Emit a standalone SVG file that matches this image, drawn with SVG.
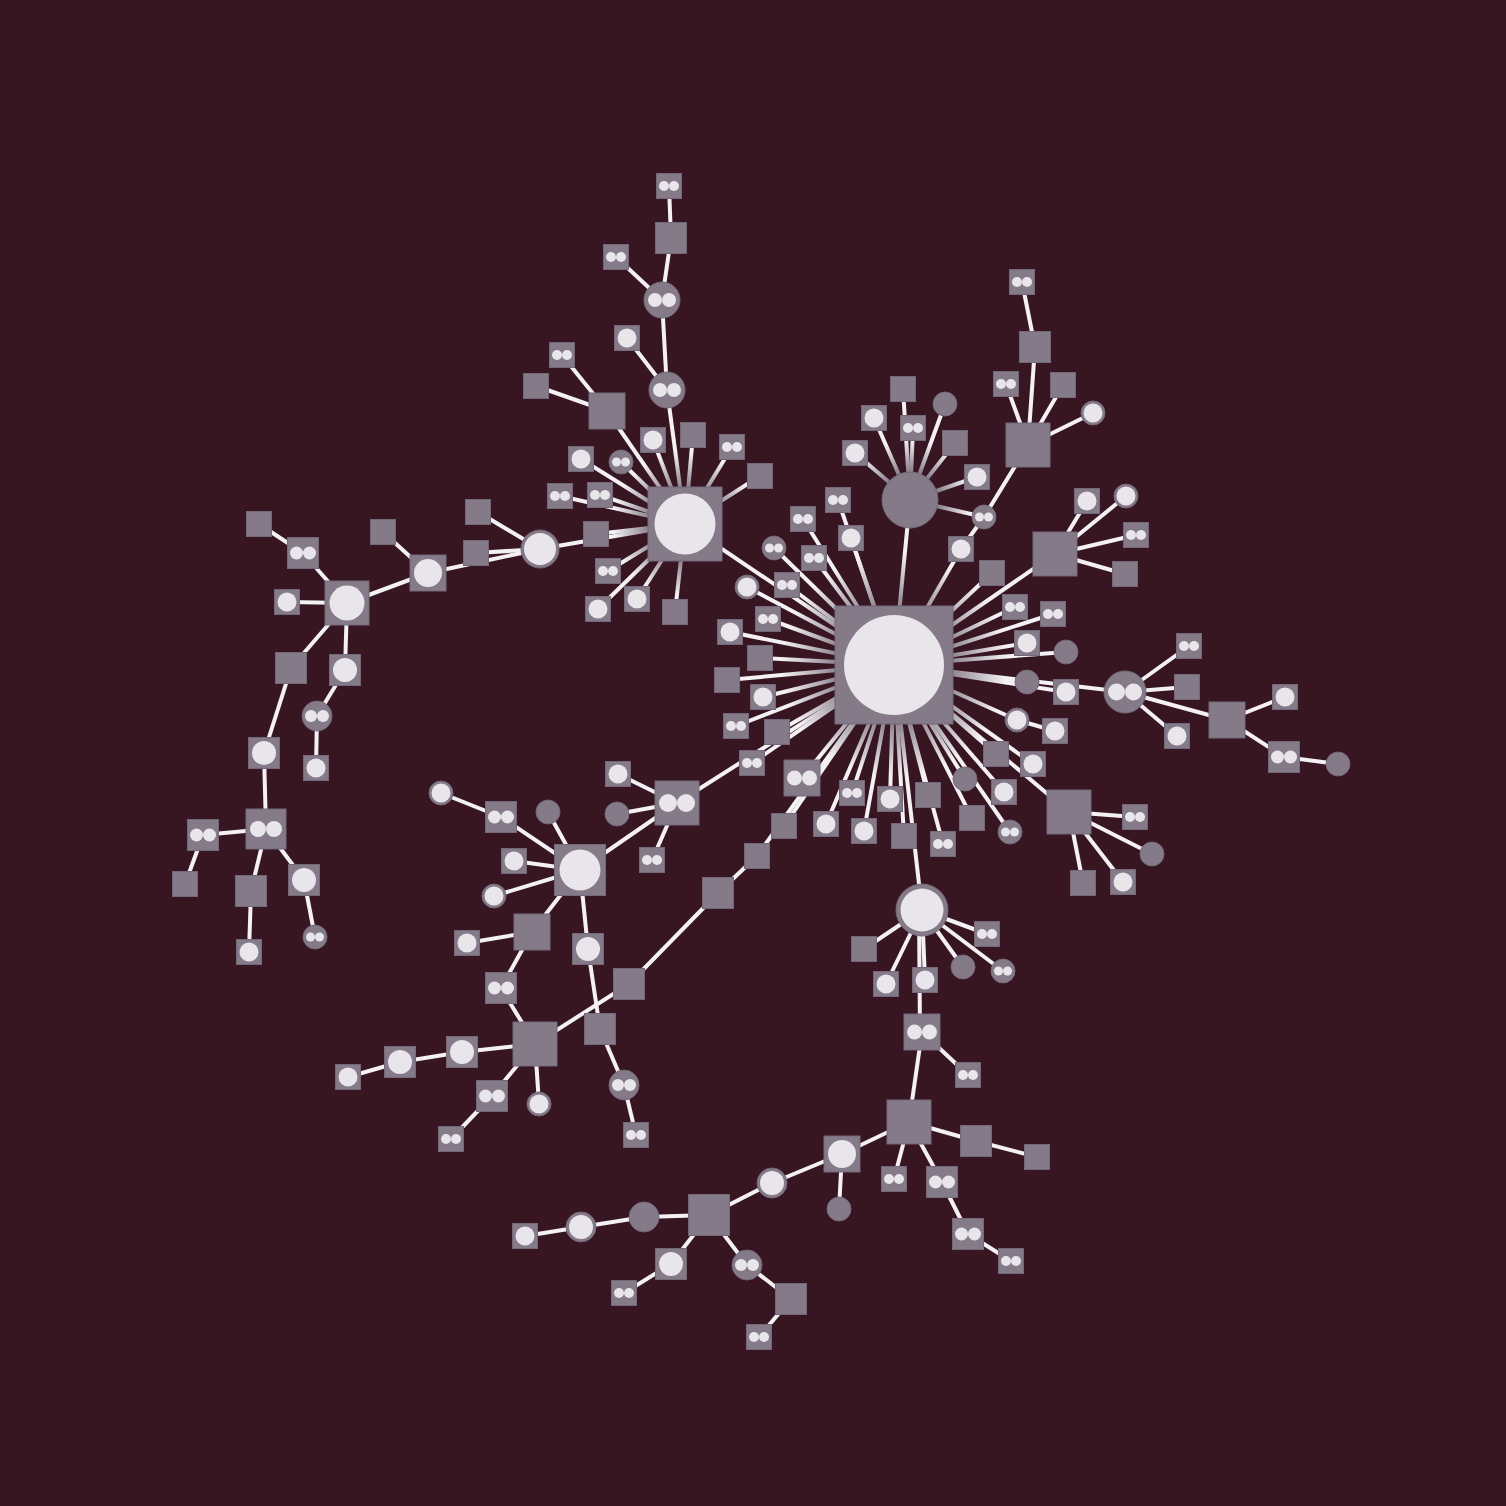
<svg xmlns="http://www.w3.org/2000/svg" xmlns:xlink="http://www.w3.org/1999/xlink" width="1506" height="1506" viewBox="0 0 1506 1506">
<style>
.n{fill:#857b88;stroke:#73687a;stroke-width:1}
.w{fill:#e8e6ea}
#edges line{stroke:#f3f1f4;stroke-width:4;stroke-linecap:butt}
#edges .gh line{stroke:url(#gH)}
#edges .gh2 line{stroke:url(#gH2)}
#edges .gc line{stroke:url(#gC)}
</style>
<defs>
<radialGradient id="gH" gradientUnits="userSpaceOnUse" cx="894" cy="665" r="140"><stop offset="0.4" stop-color="#8a808d"/><stop offset="0.8" stop-color="#f3f1f4"/></radialGradient>
<radialGradient id="gH2" gradientUnits="userSpaceOnUse" cx="685" cy="524" r="90"><stop offset="0.4" stop-color="#8a808d"/><stop offset="0.8" stop-color="#f3f1f4"/></radialGradient>
<radialGradient id="gC" gradientUnits="userSpaceOnUse" cx="910" cy="500" r="75"><stop offset="0.38" stop-color="#8a808d"/><stop offset="0.8" stop-color="#f3f1f4"/></radialGradient>
<g id="s25"><rect class="n" x="-12.5" y="-12.5" width="25" height="25"/></g>
<g id="s31"><rect class="n" x="-15.5" y="-15.5" width="31" height="31"/></g>
<g id="s36"><rect class="n" x="-18" y="-18" width="36" height="36"/></g>
<g id="s41"><rect class="n" x="-20.5" y="-20.5" width="41" height="41"/></g>
<g id="s44"><rect class="n" x="-22" y="-22" width="44" height="44"/></g>
<g id="sc25"><use href="#s25"/><circle class="w" r="9.5"/></g>
<g id="sc31"><use href="#s31"/><circle class="w" r="12"/></g>
<g id="sc36"><use href="#s36"/><circle class="w" r="14"/></g>
<g id="sc44"><use href="#s44"/><circle class="w" r="17.5"/></g>
<g id="sc51"><rect class="n" x="-25.5" y="-25.5" width="51" height="51"/><circle class="w" r="20.5"/></g>
<g id="sd25"><use href="#s25"/><circle class="w" cx="-5" r="5"/><circle class="w" cx="5" r="5"/></g>
<g id="sd31"><use href="#s31"/><circle class="w" cx="-6.5" r="6.5"/><circle class="w" cx="6.5" r="6.5"/></g>
<g id="sd36"><use href="#s36"/><circle class="w" cx="-7.5" r="7.5"/><circle class="w" cx="7.5" r="7.5"/></g>
<g id="sd40"><rect class="n" x="-20" y="-20" width="40" height="40"/><circle class="w" cx="-8" r="8"/><circle class="w" cx="8" r="8"/></g>
<g id="sd44"><use href="#s44"/><circle class="w" cx="-9" r="9"/><circle class="w" cx="9" r="9"/></g>
<g id="c12"><circle class="n" r="12"/></g>
<g id="c15"><circle class="n" r="15"/></g>
<g id="c28"><circle class="n" r="28"/></g>
<g id="cc12"><circle class="n" r="12"/><circle class="w" r="9.5"/></g>
<g id="cc15"><circle class="n" r="15"/><circle class="w" r="12"/></g>
<g id="cc19"><circle class="n" r="19"/><circle class="w" r="16"/></g>
<g id="cc26"><circle class="n" r="26"/><circle class="w" r="21.5"/></g>
<g id="cd12"><circle class="n" r="12"/><circle class="w" cx="-4.5" r="4.5"/><circle class="w" cx="4.5" r="4.5"/></g>
<g id="cd15"><circle class="n" r="15"/><circle class="w" cx="-6" r="6"/><circle class="w" cx="6" r="6"/></g>
<g id="cd18"><circle class="n" r="18"/><circle class="w" cx="-7" r="7"/><circle class="w" cx="7" r="7"/></g>
<g id="cd21"><circle class="n" r="21"/><circle class="w" cx="-8.5" r="8.5"/><circle class="w" cx="8.5" r="8.5"/></g>
</defs>
<rect width="1506" height="1506" fill="#381621"/>
<g id="edges">
<g class="plain">
<line x1="669" y1="186" x2="671" y2="238"/><line x1="671" y1="238" x2="662" y2="300"/><line x1="616" y1="257" x2="662" y2="300"/><line x1="662" y1="300" x2="667" y2="390"/><line x1="627" y1="338" x2="667" y2="390"/><line x1="562" y1="355" x2="607" y2="411"/><line x1="536" y1="386" x2="607" y2="411"/>
<line x1="540" y1="549" x2="478" y2="512"/><line x1="540" y1="549" x2="476" y2="553"/><line x1="540" y1="549" x2="428" y2="573"/><line x1="428" y1="573" x2="383" y2="532"/><line x1="428" y1="573" x2="347" y2="603"/><line x1="347" y1="603" x2="303" y2="553"/><line x1="303" y1="553" x2="259" y2="524"/><line x1="347" y1="603" x2="287" y2="602"/><line x1="347" y1="603" x2="291" y2="668"/><line x1="347" y1="603" x2="345" y2="670"/><line x1="345" y1="670" x2="317" y2="716"/><line x1="317" y1="716" x2="316" y2="768"/><line x1="291" y1="668" x2="264" y2="753"/><line x1="264" y1="753" x2="266" y2="829"/><line x1="266" y1="829" x2="203" y2="835"/><line x1="203" y1="835" x2="185" y2="884"/><line x1="266" y1="829" x2="251" y2="891"/><line x1="251" y1="891" x2="249" y2="952"/><line x1="266" y1="829" x2="304" y2="880"/><line x1="304" y1="880" x2="315" y2="937"/>
<line x1="677" y1="803" x2="618" y2="774"/><line x1="677" y1="803" x2="617" y2="814"/><line x1="677" y1="803" x2="652" y2="860"/><line x1="677" y1="803" x2="580" y2="870"/><line x1="580" y1="870" x2="501" y2="817"/><line x1="501" y1="817" x2="441" y2="793"/><line x1="580" y1="870" x2="548" y2="812"/><line x1="580" y1="870" x2="514" y2="861"/><line x1="580" y1="870" x2="494" y2="896"/><line x1="580" y1="870" x2="532" y2="932"/><line x1="580" y1="870" x2="588" y2="949"/><line x1="532" y1="932" x2="467" y2="943"/><line x1="532" y1="932" x2="501" y2="988"/><line x1="501" y1="988" x2="535" y2="1044"/><line x1="588" y1="949" x2="600" y2="1029"/><line x1="600" y1="1029" x2="624" y2="1085"/><line x1="624" y1="1085" x2="636" y2="1135"/><line x1="535" y1="1044" x2="462" y2="1052"/><line x1="462" y1="1052" x2="400" y2="1062"/><line x1="400" y1="1062" x2="348" y2="1077"/><line x1="535" y1="1044" x2="492" y2="1096"/><line x1="492" y1="1096" x2="451" y2="1139"/><line x1="535" y1="1044" x2="539" y2="1104"/><line x1="535" y1="1044" x2="629" y2="984"/><line x1="629" y1="984" x2="718" y2="893"/><line x1="718" y1="893" x2="757" y2="856"/>
<line x1="984" y1="517" x2="1028" y2="445"/><line x1="984" y1="517" x2="961" y2="549"/><line x1="1028" y1="445" x2="1035" y2="347"/><line x1="1028" y1="445" x2="1006" y2="384"/><line x1="1028" y1="445" x2="1063" y2="385"/><line x1="1028" y1="445" x2="1093" y2="413"/><line x1="1035" y1="347" x2="1022" y2="282"/>
<line x1="1055" y1="554" x2="1087" y2="501"/><line x1="1055" y1="554" x2="1126" y2="496"/><line x1="1055" y1="554" x2="1136" y2="535"/><line x1="1055" y1="554" x2="1125" y2="574"/>
<line x1="1125" y1="692" x2="1189" y2="646"/><line x1="1125" y1="692" x2="1187" y2="687"/><line x1="1125" y1="692" x2="1177" y2="736"/><line x1="1125" y1="692" x2="1227" y2="720"/><line x1="1227" y1="720" x2="1285" y2="697"/><line x1="1227" y1="720" x2="1284" y2="757"/><line x1="1284" y1="757" x2="1338" y2="764"/>
<line x1="1017" y1="720" x2="1055" y2="731"/>
<line x1="1069" y1="812" x2="1135" y2="817"/><line x1="1069" y1="812" x2="1152" y2="854"/><line x1="1069" y1="812" x2="1083" y2="883"/><line x1="1069" y1="812" x2="1123" y2="882"/>
<line x1="922" y1="910" x2="864" y2="949"/><line x1="922" y1="910" x2="886" y2="984"/><line x1="922" y1="910" x2="925" y2="980"/><line x1="922" y1="910" x2="987" y2="934"/><line x1="922" y1="910" x2="963" y2="967"/><line x1="922" y1="910" x2="1003" y2="971"/><line x1="919" y1="910" x2="920" y2="1032"/>
<line x1="922" y1="1032" x2="968" y2="1075"/><line x1="922" y1="1032" x2="909" y2="1122"/><line x1="909" y1="1122" x2="976" y2="1141"/><line x1="976" y1="1141" x2="1037" y2="1157"/><line x1="909" y1="1122" x2="894" y2="1179"/><line x1="909" y1="1122" x2="942" y2="1182"/><line x1="942" y1="1182" x2="968" y2="1234"/><line x1="968" y1="1234" x2="1011" y2="1261"/><line x1="909" y1="1122" x2="842" y2="1154"/><line x1="842" y1="1154" x2="839" y2="1209"/><line x1="842" y1="1154" x2="772" y2="1183"/>
<line x1="772" y1="1183" x2="709" y2="1215"/><line x1="709" y1="1215" x2="644" y2="1217"/><line x1="644" y1="1217" x2="581" y2="1227"/><line x1="581" y1="1227" x2="525" y2="1236"/><line x1="709" y1="1215" x2="671" y2="1264"/><line x1="671" y1="1264" x2="624" y2="1293"/><line x1="709" y1="1215" x2="747" y2="1265"/><line x1="747" y1="1265" x2="791" y2="1299"/><line x1="791" y1="1299" x2="759" y2="1337"/>
</g>
<g class="gh2">
<line x1="667" y1="390" x2="685" y2="524"/><line x1="607" y1="411" x2="685" y2="524"/>
<line x1="653" y1="440" x2="685" y2="524"/><line x1="693" y1="435" x2="685" y2="524"/><line x1="732" y1="447" x2="685" y2="524"/><line x1="760" y1="476" x2="685" y2="524"/><line x1="581" y1="459" x2="685" y2="524"/><line x1="621" y1="462" x2="685" y2="524"/><line x1="600" y1="495" x2="685" y2="524"/><line x1="560" y1="496" x2="685" y2="524"/><line x1="596" y1="534" x2="685" y2="524"/><line x1="608" y1="571" x2="685" y2="524"/><line x1="637" y1="599" x2="685" y2="524"/><line x1="598" y1="609" x2="685" y2="524"/><line x1="675" y1="612" x2="685" y2="524"/><line x1="685" y1="524" x2="540" y2="549"/>
</g>
<g class="gc">
<line x1="910" y1="500" x2="903" y2="389"/><line x1="910" y1="500" x2="945" y2="404"/><line x1="910" y1="500" x2="874" y2="418"/><line x1="910" y1="500" x2="913" y2="428"/><line x1="910" y1="500" x2="955" y2="443"/><line x1="910" y1="500" x2="855" y2="453"/><line x1="910" y1="500" x2="977" y2="477"/><line x1="910" y1="500" x2="984" y2="517"/>
</g>
<g class="gh">
<line x1="685" y1="524" x2="894" y2="665"/><line x1="894" y1="665" x2="677" y2="803"/><line x1="757" y1="856" x2="894" y2="665"/><line x1="784" y1="826" x2="894" y2="665"/>
<line x1="803" y1="519" x2="894" y2="665"/><line x1="851" y1="538" x2="894" y2="665"/><line x1="774" y1="548" x2="894" y2="665"/><line x1="814" y1="558" x2="894" y2="665"/><line x1="747" y1="587" x2="894" y2="665"/><line x1="787" y1="585" x2="894" y2="665"/><line x1="768" y1="619" x2="894" y2="665"/><line x1="730" y1="632" x2="894" y2="665"/><line x1="760" y1="658" x2="894" y2="665"/><line x1="727" y1="680" x2="894" y2="665"/><line x1="763" y1="697" x2="894" y2="665"/><line x1="736" y1="726" x2="894" y2="665"/><line x1="777" y1="732" x2="894" y2="665"/><line x1="752" y1="763" x2="894" y2="665"/><line x1="802" y1="778" x2="894" y2="665"/><line x1="826" y1="824" x2="894" y2="665"/><line x1="852" y1="793" x2="894" y2="665"/><line x1="838" y1="500" x2="894" y2="665"/>
<line x1="890" y1="799" x2="894" y2="665"/><line x1="928" y1="795" x2="894" y2="665"/><line x1="864" y1="831" x2="894" y2="665"/><line x1="904" y1="836" x2="894" y2="665"/><line x1="943" y1="844" x2="894" y2="665"/><line x1="922" y1="910" x2="894" y2="665"/>
<line x1="910" y1="500" x2="894" y2="665"/><line x1="961" y1="549" x2="894" y2="665"/><line x1="1055" y1="554" x2="894" y2="665"/><line x1="992" y1="573" x2="894" y2="665"/><line x1="1015" y1="607" x2="894" y2="665"/><line x1="1053" y1="614" x2="894" y2="665"/><line x1="1027" y1="643" x2="894" y2="665"/><line x1="1066" y1="652" x2="894" y2="665"/><line x1="1027" y1="682" x2="894" y2="665"/><line x1="1066" y1="692" x2="894" y2="665"/><line x1="1125" y1="692" x2="894" y2="665"/><line x1="1017" y1="720" x2="894" y2="665"/><line x1="996" y1="754" x2="894" y2="665"/><line x1="1033" y1="764" x2="894" y2="665"/><line x1="965" y1="779" x2="894" y2="665"/><line x1="1004" y1="792" x2="894" y2="665"/><line x1="972" y1="818" x2="894" y2="665"/><line x1="1010" y1="832" x2="894" y2="665"/><line x1="1069" y1="812" x2="894" y2="665"/>
</g>
</g>
<g id="H"><rect class="n" x="835" y="606" width="118" height="118"/><circle class="w" cx="894" cy="665" r="50"/></g>
<g id="H2"><rect class="n" x="648" y="487" width="74" height="74"/><circle class="w" cx="685" cy="524" r="30.5"/></g>
<g id="t1"><use href="#sd25" x="669" y="186"/></g>
<g id="t2"><use href="#s31" x="671" y="238"/></g>
<g id="t3"><use href="#sd25" x="616" y="257"/></g>
<g id="t4"><use href="#cd18" x="662" y="300"/></g>
<g id="t5"><use href="#sc25" x="627" y="338"/></g>
<g id="t6"><use href="#cd18" x="667" y="390"/></g>
<g id="t7"><use href="#sd25" x="562" y="355"/></g>
<g id="t8"><use href="#s25" x="536" y="386"/></g>
<g id="t9"><use href="#s36" x="607" y="411"/></g>
<g id="a1"><use href="#sc25" x="653" y="440"/></g>
<g id="a2"><use href="#s25" x="693" y="435"/></g>
<g id="a3"><use href="#sd25" x="732" y="447"/></g>
<g id="a4"><use href="#s25" x="760" y="476"/></g>
<g id="a5"><use href="#sc25" x="581" y="459"/></g>
<g id="a6"><use href="#cd12" x="621" y="462"/></g>
<g id="a7"><use href="#sd25" x="600" y="495"/></g>
<g id="a8"><use href="#sd25" x="560" y="496"/></g>
<g id="a9"><use href="#s25" x="596" y="534"/></g>
<g id="a10"><use href="#sd25" x="608" y="571"/></g>
<g id="a11"><use href="#sc25" x="637" y="599"/></g>
<g id="a12"><use href="#sc25" x="598" y="609"/></g>
<g id="a13"><use href="#s25" x="675" y="612"/></g>
<g id="l1"><use href="#cc19" x="540" y="549"/></g>
<g id="l2"><use href="#s25" x="478" y="512"/></g>
<g id="l3"><use href="#s25" x="476" y="553"/></g>
<g id="l4"><use href="#sc36" x="428" y="573"/></g>
<g id="l5"><use href="#s25" x="383" y="532"/></g>
<g id="l6"><use href="#sc44" x="347" y="603"/></g>
<g id="l7"><use href="#sd31" x="303" y="553"/></g>
<g id="l8"><use href="#s25" x="259" y="524"/></g>
<g id="l9"><use href="#sc25" x="287" y="602"/></g>
<g id="l10"><use href="#s31" x="291" y="668"/></g>
<g id="l11"><use href="#sc31" x="345" y="670"/></g>
<g id="l12"><use href="#cd15" x="317" y="716"/></g>
<g id="l13"><use href="#sc25" x="316" y="768"/></g>
<g id="l14"><use href="#sc31" x="264" y="753"/></g>
<g id="l15"><use href="#sd40" x="266" y="829"/></g>
<g id="l16"><use href="#sd31" x="203" y="835"/></g>
<g id="l17"><use href="#s25" x="185" y="884"/></g>
<g id="l18"><use href="#s31" x="251" y="891"/></g>
<g id="l19"><use href="#sc31" x="304" y="880"/></g>
<g id="l20"><use href="#sc25" x="249" y="952"/></g>
<g id="l21"><use href="#cd12" x="315" y="937"/></g>
<g id="b1"><use href="#cc12" x="441" y="793"/></g>
<g id="b2"><use href="#sd31" x="501" y="817"/></g>
<g id="b3"><use href="#c12" x="548" y="812"/></g>
<g id="b4"><use href="#sc51" x="580" y="870"/></g>
<g id="b5"><use href="#sc25" x="618" y="774"/></g>
<g id="b6"><use href="#c12" x="617" y="814"/></g>
<g id="b7"><use href="#sd44" x="677" y="803"/></g>
<g id="b8"><use href="#sd25" x="652" y="860"/></g>
<g id="b9"><use href="#sc25" x="514" y="861"/></g>
<g id="b10"><use href="#cc12" x="494" y="896"/></g>
<g id="b11"><use href="#s36" x="532" y="932"/></g>
<g id="b12"><use href="#sc25" x="467" y="943"/></g>
<g id="b13"><use href="#sc31" x="588" y="949"/></g>
<g id="b14"><use href="#sd31" x="501" y="988"/></g>
<g id="b15"><use href="#s31" x="629" y="984"/></g>
<g id="b16"><use href="#s44" x="535" y="1044"/></g>
<g id="b17"><use href="#s31" x="600" y="1029"/></g>
<g id="b18"><use href="#sc31" x="462" y="1052"/></g>
<g id="b19"><use href="#sd31" x="492" y="1096"/></g>
<g id="b20"><use href="#cc12" x="539" y="1104"/></g>
<g id="b21"><use href="#cd15" x="624" y="1085"/></g>
<g id="b22"><use href="#sd25" x="451" y="1139"/></g>
<g id="b23"><use href="#sd25" x="636" y="1135"/></g>
<g id="b24"><use href="#sc31" x="400" y="1062"/></g>
<g id="b25"><use href="#sc25" x="348" y="1077"/></g>
<g id="b26"><use href="#s31" x="718" y="893"/></g>
<g id="b27"><use href="#s25" x="757" y="856"/></g>
<g id="b28"><use href="#s25" x="784" y="826"/></g>
<g id="h1"><use href="#sd25" x="803" y="519"/></g>
<g id="h2"><use href="#sc25" x="851" y="538"/></g>
<g id="h3"><use href="#cd12" x="774" y="548"/></g>
<g id="h4"><use href="#sd25" x="814" y="558"/></g>
<g id="h5"><use href="#cc12" x="747" y="587"/></g>
<g id="h6"><use href="#sd25" x="787" y="585"/></g>
<g id="h7"><use href="#sd25" x="768" y="619"/></g>
<g id="h8"><use href="#sc25" x="730" y="632"/></g>
<g id="h9"><use href="#s25" x="760" y="658"/></g>
<g id="h10"><use href="#s25" x="727" y="680"/></g>
<g id="h11"><use href="#sc25" x="763" y="697"/></g>
<g id="h12"><use href="#sd25" x="736" y="726"/></g>
<g id="h13"><use href="#s25" x="777" y="732"/></g>
<g id="h14"><use href="#sd25" x="752" y="763"/></g>
<g id="h15"><use href="#sd36" x="802" y="778"/></g>
<g id="h16"><use href="#sc25" x="826" y="824"/></g>
<g id="h18"><use href="#sd25" x="838" y="500"/></g>
<g id="d1"><use href="#sd25" x="852" y="793"/></g>
<g id="d2"><use href="#sc25" x="890" y="799"/></g>
<g id="d3"><use href="#s25" x="928" y="795"/></g>
<g id="d4"><use href="#sc25" x="864" y="831"/></g>
<g id="d5"><use href="#s25" x="904" y="836"/></g>
<g id="d6"><use href="#sd25" x="943" y="844"/></g>
<g id="c0"><use href="#c28" x="910" y="500"/></g>
<g id="c1"><use href="#s25" x="903" y="389"/></g>
<g id="c2"><use href="#c12" x="945" y="404"/></g>
<g id="c3"><use href="#sc25" x="874" y="418"/></g>
<g id="c4"><use href="#sd25" x="913" y="428"/></g>
<g id="c5"><use href="#s25" x="955" y="443"/></g>
<g id="c6"><use href="#sc25" x="855" y="453"/></g>
<g id="c7"><use href="#sc25" x="977" y="477"/></g>
<g id="c8"><use href="#cd12" x="984" y="517"/></g>
<g id="c9"><use href="#sc25" x="961" y="549"/></g>
<g id="r1"><use href="#s44" x="1028" y="445"/></g>
<g id="r2"><use href="#s31" x="1035" y="347"/></g>
<g id="r3"><use href="#sd25" x="1022" y="282"/></g>
<g id="r4"><use href="#sd25" x="1006" y="384"/></g>
<g id="r5"><use href="#s25" x="1063" y="385"/></g>
<g id="r6"><use href="#cc12" x="1093" y="413"/></g>
<g id="r7"><use href="#s44" x="1055" y="554"/></g>
<g id="r8"><use href="#sc25" x="1087" y="501"/></g>
<g id="r9"><use href="#cc12" x="1126" y="496"/></g>
<g id="r10"><use href="#sd25" x="1136" y="535"/></g>
<g id="r11"><use href="#s25" x="1125" y="574"/></g>
<g id="r12"><use href="#s25" x="992" y="573"/></g>
<g id="r13"><use href="#sd25" x="1015" y="607"/></g>
<g id="r14"><use href="#sd25" x="1053" y="614"/></g>
<g id="r15"><use href="#sc25" x="1027" y="643"/></g>
<g id="r16"><use href="#c12" x="1066" y="652"/></g>
<g id="r17"><use href="#c12" x="1027" y="682"/></g>
<g id="r18"><use href="#sc25" x="1066" y="692"/></g>
<g id="r19"><use href="#cd21" x="1125" y="692"/></g>
<g id="r20"><use href="#sd25" x="1189" y="646"/></g>
<g id="r21"><use href="#s25" x="1187" y="687"/></g>
<g id="r22"><use href="#sc25" x="1177" y="736"/></g>
<g id="r23"><use href="#s36" x="1227" y="720"/></g>
<g id="r24"><use href="#sc25" x="1285" y="697"/></g>
<g id="r25"><use href="#sd31" x="1284" y="757"/></g>
<g id="r26"><use href="#c12" x="1338" y="764"/></g>
<g id="r27"><use href="#cc12" x="1017" y="720"/></g>
<g id="r28"><use href="#sc25" x="1055" y="731"/></g>
<g id="r29"><use href="#s25" x="996" y="754"/></g>
<g id="r30"><use href="#sc25" x="1033" y="764"/></g>
<g id="r31"><use href="#c12" x="965" y="779"/></g>
<g id="r32"><use href="#sc25" x="1004" y="792"/></g>
<g id="r33"><use href="#s25" x="972" y="818"/></g>
<g id="r34"><use href="#cd12" x="1010" y="832"/></g>
<g id="r35"><use href="#s44" x="1069" y="812"/></g>
<g id="r36"><use href="#sd25" x="1135" y="817"/></g>
<g id="r37"><use href="#c12" x="1152" y="854"/></g>
<g id="r38"><use href="#s25" x="1083" y="883"/></g>
<g id="r39"><use href="#sc25" x="1123" y="882"/></g>
<g id="e1"><use href="#cc26" x="922" y="910"/></g>
<g id="e2"><use href="#s25" x="864" y="949"/></g>
<g id="e3"><use href="#sc25" x="886" y="984"/></g>
<g id="e4"><use href="#sc25" x="925" y="980"/></g>
<g id="e5"><use href="#sd25" x="987" y="934"/></g>
<g id="e6"><use href="#c12" x="963" y="967"/></g>
<g id="e7"><use href="#cd12" x="1003" y="971"/></g>
<g id="e8"><use href="#sd36" x="922" y="1032"/></g>
<g id="e9"><use href="#sd25" x="968" y="1075"/></g>
<g id="e10"><use href="#s44" x="909" y="1122"/></g>
<g id="e11"><use href="#s31" x="976" y="1141"/></g>
<g id="e12"><use href="#s25" x="1037" y="1157"/></g>
<g id="e13"><use href="#sc36" x="842" y="1154"/></g>
<g id="e14"><use href="#c12" x="839" y="1209"/></g>
<g id="e15"><use href="#sd25" x="894" y="1179"/></g>
<g id="e16"><use href="#sd31" x="942" y="1182"/></g>
<g id="e17"><use href="#sd31" x="968" y="1234"/></g>
<g id="e18"><use href="#sd25" x="1011" y="1261"/></g>
<g id="f1"><use href="#cc15" x="772" y="1183"/></g>
<g id="f2"><use href="#s41" x="709" y="1215"/></g>
<g id="f3"><use href="#c15" x="644" y="1217"/></g>
<g id="f4"><use href="#cc15" x="581" y="1227"/></g>
<g id="f5"><use href="#sc25" x="525" y="1236"/></g>
<g id="f6"><use href="#sc31" x="671" y="1264"/></g>
<g id="f7"><use href="#sd25" x="624" y="1293"/></g>
<g id="f8"><use href="#cd15" x="747" y="1265"/></g>
<g id="f9"><use href="#s31" x="791" y="1299"/></g>
<g id="f10"><use href="#sd25" x="759" y="1337"/></g>
</svg>
